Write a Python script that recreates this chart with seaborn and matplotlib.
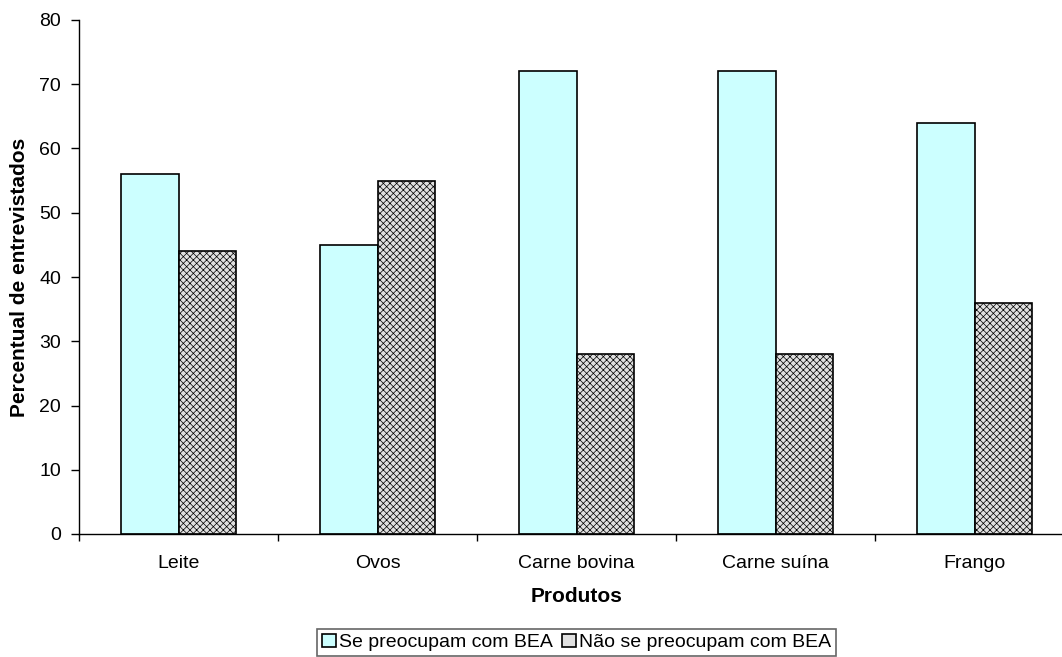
import matplotlib
matplotlib.use("Agg")
import matplotlib.pyplot as plt
import seaborn as sns
import pandas as pd

produtos = ["Leite", "Ovos", "Carne bovina", "Carne suína", "Frango"]
preocupam = [56, 45, 72, 72, 64]
nao_preocupam = [44, 55, 28, 28, 36]
series = ["Se preocupam com BEA", "Não se preocupam com BEA"]
yticks = [0, 10, 20, 30, 40, 50, 60, 70, 80]

df = pd.DataFrame({
    "Produto": produtos * 2,
    "Percentual": preocupam + nao_preocupam,
    "Grupo": [series[0]] * len(produtos) + [series[1]] * len(produtos),
})

sns.set_theme(style="white")
plt.rcParams["font.family"] = ["Liberation Sans", "DejaVu Sans"]
plt.rcParams["text.color"] = "black"
plt.rcParams["axes.labelcolor"] = "black"
plt.rcParams["xtick.color"] = "black"
plt.rcParams["ytick.color"] = "black"
plt.rcParams["hatch.color"] = "#b0b0b0"
plt.rcParams["hatch.linewidth"] = 0.5

fig = plt.figure(figsize=(10.62, 6.57), dpi=100)
ax = fig.add_axes([79 / 1062, 1 - 534 / 657, (1074 - 79) / 1062, (534 - 20) / 657])

sns.barplot(data=df, x="Produto", y="Percentual", hue="Grupo", order=produtos,
            hue_order=series, palette=["#CCFFFF", "#E0E0E0"], width=0.574,
            gap=0, saturation=1, edgecolor="black", linewidth=1.2, ax=ax)

# fine stipple on the second series
for bar in ax.containers[1]:
    bar.set_hatch("xxxxx")
    bar.set_edgecolor("black")

ax.set_xlim(-0.5, 4.5)
ax.set_ylim(0, 80)
ax.set_yticks(yticks)
ax.set_xticks(range(len(produtos)))
ax.set_xticklabels(produtos, fontsize=14)
ax.tick_params(axis="y", labelsize=14, length=6, width=1, pad=7, left=True)
ax.tick_params(axis="x", length=0, pad=15)
# category separators on the x axis
ax.set_xticks([i + 0.5 for i in range(len(produtos) - 1)] + [-0.5], minor=True)
ax.tick_params(axis="x", which="minor", length=5, width=1, bottom=True)

for side in ["top", "right"]:
    ax.spines[side].set_visible(False)
for side in ["left", "bottom"]:
    ax.spines[side].set_color("black")
    ax.spines[side].set_linewidth(1)

ax.set_xlabel("Produtos", fontsize=15, fontweight="bold")
ax.set_ylabel("Percentual de entrevistados", fontsize=15, fontweight="bold")
ax.xaxis.set_label_coords(0.5, -0.103)
ax.yaxis.set_label_coords(-0.05, 0.5)

handles, labels = ax.get_legend_handles_labels()
ax.get_legend().remove()
leg = fig.legend(handles, labels, loc="upper center",
                 bbox_to_anchor=((79 + 1074) / 2 / 1062, 1 - 629 / 657),
                 ncol=2, fontsize=14, frameon=True, fancybox=False, edgecolor="#404040",
                 handlelength=0.7, handleheight=0.7, handletextpad=0.15, columnspacing=0.5,
                 borderpad=0.25, borderaxespad=0)
leg.get_frame().set_linewidth(1.2)

fig.savefig("out.png", dpi=100)
